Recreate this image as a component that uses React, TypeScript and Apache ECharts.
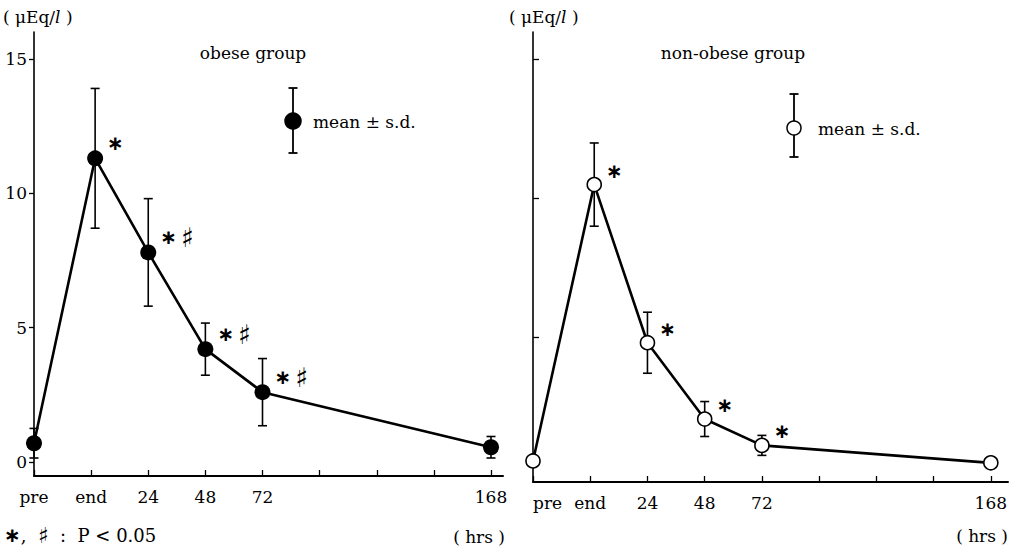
import React, { useEffect, useRef } from "react";
import * as echarts from "echarts";

// x positions: 0 = pre, 1 = end, 2 = 24h, 3 = 48h, 4 = 72h, ... 8 = 168h
const tickLabels = ["pre", "end", "24", "48", "72", "", "", "", "168"];
const tickPositions = [0, 1, 2, 3, 4, 5, 6, 7, 8];
const samplePositions = [0, 1.07, 2, 3, 4, 8];

const obeseMean = [0.7, 11.3, 7.8, 4.2, 2.6, 0.55];
const obeseSD = [0.55, 2.6, 2.0, 0.97, 1.25, 0.4];
const obeseSig = ["", "*", "*#", "*#", "*#", ""];

const nonObeseMean = [0.54, 10.5, 4.8, 2.05, 1.1, 0.47];
const nonObeseSD = [0, 1.5, 1.1, 0.63, 0.36, 0];
const nonObeseSig = ["", "*", "*", "*", "*", ""];

const yTicks = [0, 5, 10, 15];

const FONT = "DejaVu Serif";

function sigText(s: string) {
  if (!s) return "";
  let out = "";
  if (s.includes("*")) out += "{a|∗}";
  if (s.includes("#")) out += "{sp| }{b|♯}";
  return out;
}

const sigRich = {
  a: { fontFamily: "DejaVu Sans", fontSize: 20, fontWeight: "bold", color: "#000", lineHeight: 20, verticalAlign: "middle" },
  b: { fontFamily: "DejaVu Sans", fontSize: 27, color: "#000", lineHeight: 20, verticalAlign: "middle" },
  sp: { fontSize: 14, lineHeight: 20, verticalAlign: "middle" },
};

function errorRender(params: any, api: any) {
  const x = api.value(0);
  const lo = api.value(1);
  const hi = api.value(2);
  if (hi - lo <= 0) return { type: "group", children: [] };
  const pHi = api.coord([x, hi]);
  const pLo = api.coord([x, lo]);
  const w = 4.5;
  const style = { stroke: "#000", lineWidth: 1.6 };
  return {
    type: "group",
    children: [
      { type: "line", shape: { x1: pHi[0], y1: pHi[1], x2: pLo[0], y2: pLo[1] }, style },
      { type: "line", shape: { x1: pHi[0] - w, y1: pHi[1], x2: pHi[0] + w, y2: pHi[1] }, style },
      { type: "line", shape: { x1: pLo[0] - w, y1: pLo[1], x2: pLo[0] + w, y2: pLo[1] }, style },
    ],
  };
}

export default function App() {
  const ref = useRef<HTMLDivElement>(null);
  useEffect(() => {
    if (!ref.current) return;
    const chart = echarts.init(ref.current, null, { renderer: "svg" });

    const xAxisBase = (gridIndex: number, max: number, alignMin: any) => ({
      type: "value",
      gridIndex,
      min: 0,
      max,
      axisLine: { show: true, onZero: false, lineStyle: { color: "#000", width: 2 } },
      axisTick: { show: true, inside: true, length: 6, customValues: tickPositions, lineStyle: { color: "#000", width: 1.3 } },
      axisLabel: {
        show: true,
        customValues: tickPositions,
        formatter: (v: number) => tickLabels[Math.round(v)] ?? "",
        fontFamily: FONT,
        fontSize: 17,
        color: "#000",
        margin: 12,
        alignMinLabel: alignMin,
        hideOverlap: false,
      },
      splitLine: { show: false },
    });

    const obeseLine = samplePositions.map((x, i) => [x, obeseMean[i]]);
    const obeseErr = samplePositions.map((x, i) => [x, obeseMean[i] - obeseSD[i], obeseMean[i] + obeseSD[i]]);
    const nonLine = samplePositions.map((x, i) => [x, nonObeseMean[i]]);
    const nonErr = samplePositions.map((x, i) => [x, nonObeseMean[i] - nonObeseSD[i], nonObeseMean[i] + nonObeseSD[i]]);

    const textStyle = (x: number, y: number, text: string, align = "left", size = 17) => ({
      type: "text",
      x,
      y,
      style: { text, fontFamily: FONT, fontSize: size, fill: "#000", align, verticalAlign: "middle" },
    });

    const unitText = (x: number, y: number) => ({
      type: "text",
      x,
      y,
      style: {
        text: "({n| μEq/}{i|l}{n| })",
        fontFamily: FONT,
        fontSize: 17,
        fill: "#000",
        verticalAlign: "middle",
        rich: {
          n: { fontFamily: FONT, fontSize: 17 },
          i: { fontFamily: FONT, fontSize: 17, fontStyle: "italic" },
        },
      },
    });

    const legendGlyph = (cx: number, cy: number, top: number, bottom: number, r: number, filled: boolean) => [
      { type: "line", shape: { x1: cx, y1: top, x2: cx, y2: bottom }, style: { stroke: "#000", lineWidth: 1.8 } },
      { type: "line", shape: { x1: cx - 4.5, y1: top, x2: cx + 4.5, y2: top }, style: { stroke: "#000", lineWidth: 1.8 } },
      { type: "line", shape: { x1: cx - 4.5, y1: bottom, x2: cx + 4.5, y2: bottom }, style: { stroke: "#000", lineWidth: 1.8 } },
      { type: "circle", shape: { cx, cy, r }, style: { fill: filled ? "#000" : "#fff", stroke: "#000", lineWidth: 1.5 }, z: 10 },
    ];

    chart.setOption({
      animation: false,
      backgroundColor: "#fff",
      grid: [
        { left: 34, top: 32, width: 469, height: 444 },
        { left: 533, top: 32, width: 475, height: 450 },
      ],
      xAxis: [xAxisBase(0, 8.21, "center"), xAxisBase(1, 8.3, "left")],
      yAxis: [
        {
          type: "value",
          gridIndex: 0,
          min: -0.52,
          max: 16,
          axisLine: { show: true, onZero: false, lineStyle: { color: "#000", width: 1.6 } },
          axisTick: { show: true, inside: false, length: 5, customValues: yTicks, lineStyle: { color: "#000", width: 1.3 } },
          axisLabel: { show: true, customValues: yTicks, fontFamily: FONT, fontSize: 17, color: "#000", margin: 7 },
          splitLine: { show: false },
        },
        {
          type: "value",
          gridIndex: 1,
          min: -0.22,
          max: 16,
          axisLine: { show: true, onZero: false, lineStyle: { color: "#000", width: 1.6 } },
          axisTick: { show: true, inside: true, length: 6, customValues: yTicks.filter((v) => v > 0), lineStyle: { color: "#000", width: 1.3 } },
          axisLabel: { show: false },
          splitLine: { show: false },
        },
      ],
      series: [
        {
          type: "custom",
          xAxisIndex: 0,
          yAxisIndex: 0,
          renderItem: errorRender,
          data: obeseErr,
          z: 2,
          silent: true,
        },
        {
          type: "line",
          xAxisIndex: 0,
          yAxisIndex: 0,
          data: obeseLine,
          symbol: "circle",
          symbolSize: 16,
          itemStyle: { color: "#000" },
          lineStyle: { color: "#000", width: 2.6 },
          z: 3,
          label: {
            show: true,
            position: "right",
            distance: 4,
            offset: [0, -15],
            formatter: (p: any) => sigText(obeseSig[p.dataIndex]),
            rich: sigRich,
          },
        },
        {
          type: "custom",
          xAxisIndex: 1,
          yAxisIndex: 1,
          renderItem: errorRender,
          data: nonErr,
          z: 2,
          silent: true,
        },
        {
          type: "line",
          xAxisIndex: 1,
          yAxisIndex: 1,
          data: nonLine,
          symbol: "circle",
          symbolSize: 14,
          itemStyle: { color: "#fff", borderColor: "#000", borderWidth: 1.6 },
          lineStyle: { color: "#000", width: 2.6 },
          z: 3,
          label: {
            show: true,
            position: "right",
            distance: 4,
            offset: [0, -14],
            formatter: (p: any) => sigText(nonObeseSig[p.dataIndex]),
            rich: sigRich,
          },
        },
      ],
      graphic: [
        unitText(3, 17),
        unitText(509, 17),
        textStyle(253, 53, "obese group", "center"),
        textStyle(733, 53, "non-obese group", "center"),
        ...legendGlyph(293, 121, 88, 153, 8, true),
        textStyle(313, 122, "mean ± s.d."),
        ...legendGlyph(794, 128, 94, 157, 7, false),
        textStyle(818, 129, "mean ± s.d."),
        {
          type: "text",
          x: 4,
          y: 535,
          style: {
            text: "{a|∗}{n|,  }{b|♯}{n|  :  P < 0.05}",
            fontFamily: FONT,
            fontSize: 17,
            fill: "#000",
            verticalAlign: "middle",
            rich: {
              a: { fontFamily: "DejaVu Sans", fontSize: 20, fontWeight: "bold", lineHeight: 18, verticalAlign: "middle" },
              b: { fontFamily: "DejaVu Sans", fontSize: 22, lineHeight: 18, verticalAlign: "middle" },
              n: { fontFamily: FONT, fontSize: 18, lineHeight: 18, verticalAlign: "middle" },
            },
          },
        },
        textStyle(505, 537, "( hrs )", "right"),
        textStyle(1008, 536, "( hrs )", "right"),
      ],
    });
    return () => chart.dispose();
  }, []);
  return <div ref={ref} style={{ position: "fixed", left: 0, top: 0, width: 1011, height: 550 }} />;
}
